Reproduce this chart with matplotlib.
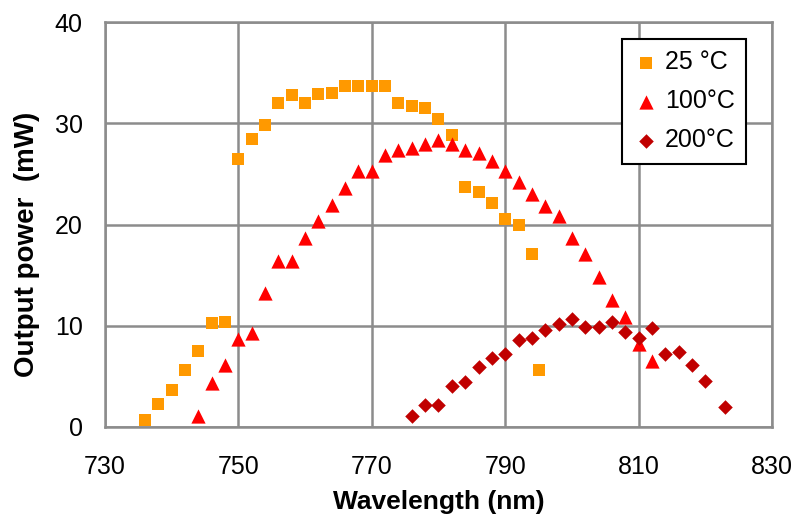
import matplotlib
matplotlib.use("Agg")
from matplotlib import pyplot as plt

plt.rcParams["font.family"] = ["Liberation Sans", "DejaVu Sans"]

# measured spectra, output power vs wavelength
wl_25 = [736, 738, 740, 742, 744, 746, 748, 750, 752, 754, 756, 758, 760, 762,
         764, 766, 768, 770, 772, 774, 776, 778, 780, 782, 784, 786, 788, 790,
         792, 794, 795]
p_25 = [0.7, 2.3, 3.7, 5.6, 7.5, 10.3, 10.4, 26.5, 28.4, 29.8, 32.0, 32.8, 32.0,
        32.9, 33.0, 33.7, 33.7, 33.7, 33.7, 32.0, 31.7, 31.5, 30.4, 28.8, 23.7,
        23.2, 22.1, 20.5, 20.0, 17.1, 5.6]

wl_100 = [744, 746, 748, 750, 752, 754, 756, 758, 760, 762, 764, 766, 768, 770,
          772, 774, 776, 778, 780, 782, 784, 786, 788, 790, 792, 794, 796, 798,
          800, 802, 804, 806, 808, 810, 812]
p_100 = [1.1, 4.3, 6.1, 8.7, 9.3, 13.2, 16.4, 16.4, 18.7, 20.3, 21.9, 23.6, 25.3,
         25.3, 26.9, 27.4, 27.6, 28.0, 28.3, 28.0, 27.4, 27.1, 26.3, 25.3, 24.2,
         23.0, 21.8, 20.8, 18.7, 17.1, 14.8, 12.5, 10.9, 8.2, 6.5]

wl_200 = [776, 778, 780, 782, 784, 786, 788, 790, 792, 794, 796, 798, 800, 802,
          804, 806, 808, 810, 812, 814, 816, 818, 820, 823]
p_200 = [1.1, 2.2, 2.2, 4.0, 4.4, 5.9, 6.8, 7.2, 8.6, 8.8, 9.6, 10.2, 10.7, 9.9,
         9.9, 10.4, 9.4, 8.8, 9.8, 7.2, 7.4, 6.1, 4.5, 2.0]

fig = plt.figure(figsize=(8.02, 5.17), dpi=100)
ax = fig.add_axes([0.1309, 0.1741, 0.8317, 0.7833])

ax.scatter(wl_25, p_25, marker="s", s=75, color="#FF9900", linewidths=0,
           label="25 °C", zorder=3)
ax.scatter(wl_100, p_100, marker="^", s=105, color="#FF0000", linewidths=0,
           label="100°C", zorder=3)
ax.scatter(wl_200, p_200, marker="D", s=55, color="#C00000", linewidths=0,
           label="200°C", zorder=3)

ax.set_xlim(730, 830)
ax.set_ylim(0, 40)
ax.set_xticks(range(730, 831, 20))
ax.set_yticks(range(0, 41, 10))
ax.grid(True, color="#8C8C8C", linewidth=1.8)
ax.set_axisbelow(True)
for sp in ax.spines.values():
    sp.set_color("#8C8C8C")
    sp.set_linewidth(1.8)
ax.tick_params(length=0, labelsize=18)
ax.tick_params(axis="x", pad=20)
ax.tick_params(axis="y", pad=16)

ax.set_xlabel("Wavelength (nm)", fontsize=19, fontweight="bold")
ax.set_ylabel("Output power  (mW)", fontsize=20, fontweight="bold")
ax.xaxis.set_label_coords(0.5, -0.155)
ax.yaxis.set_label_coords(-0.098, 0.45)

leg = ax.legend(loc="upper right", bbox_to_anchor=(0.961, 0.958), fontsize=18,
                frameon=True, fancybox=False, framealpha=1, edgecolor="black",
                handletextpad=0.25, handlelength=1.0, labelspacing=0.6,
                borderpad=0.45, borderaxespad=0)
leg.get_frame().set_linewidth(1.5)

fig.savefig("out.png", dpi=100)
